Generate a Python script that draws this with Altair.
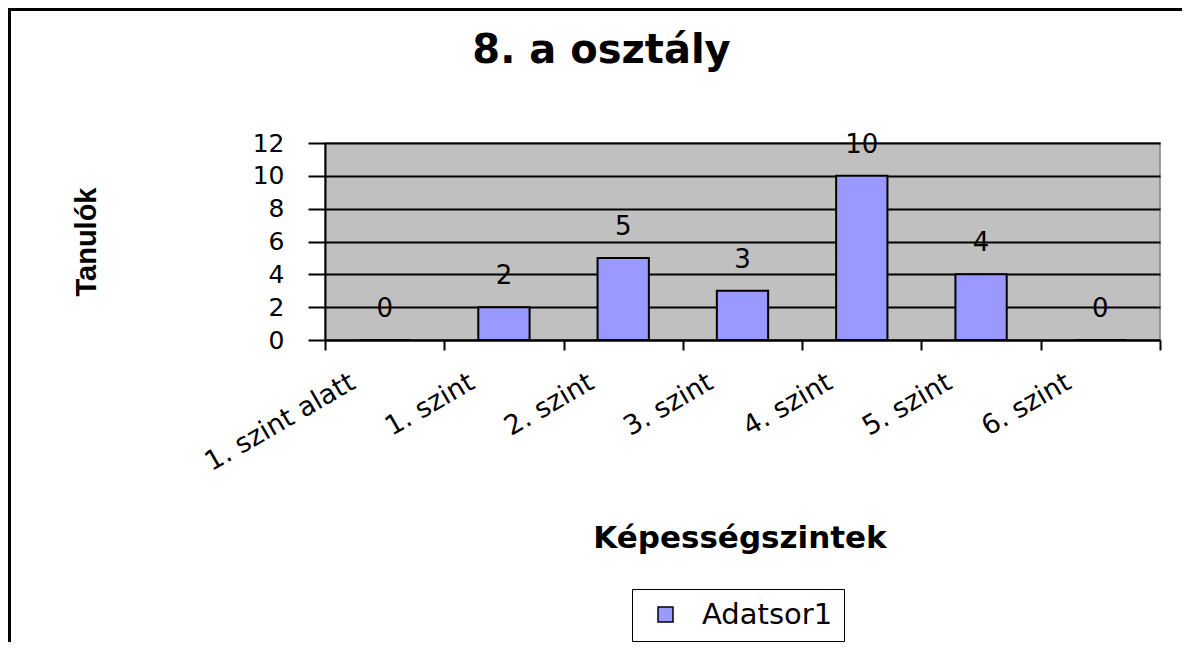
import altair as alt
import pandas as pd

categories = ["1. szint alatt", "1. szint", "2. szint", "3. szint", "4. szint", "5. szint", "6. szint"]
values = [0, 2, 5, 3, 10, 4, 0]
series = ["Adatsor1"] * len(categories)
y_ticks = [0, 2, 4, 6, 8, 10, 12]

df = pd.DataFrame({"cat": categories, "val": values, "series": series})

W, H = 835, 197
PAD_L, PAD_T = 317, 135
CANVAS_W, CANVAS_H = 1174, 634

x_enc = alt.X(
    "cat:N",
    sort=categories,
    scale=alt.Scale(paddingInner=0, paddingOuter=0),
    axis=alt.Axis(
        title="Képességszintek",
        labelAngle=-30,
        labelAlign="right",
        labelBaseline="middle",
        labelOffset=-32,
        labelPadding=30,
        labelFont="DejaVu Sans",
        labelFontSize=27,
        labelColor="black",
        labelOverlap=False,
        tickBand="extent",
        tickSize=10,
        tickWidth=2,
        tickColor="black",
        domainColor="black",
        domainWidth=2,
        titleFont="DejaVu Sans",
        titleFontSize=31,
        titleFontWeight="bold",
        titleColor="black",
        titleX=W / 2 - 3,
        titleY=207,
        titleBaseline="alphabetic",
        titleAlign="center",
    ),
)

y_enc = alt.Y(
    "val:Q",
    scale=alt.Scale(domain=[0, 12], nice=False),
    axis=alt.Axis(
        title="Tanulók",
        values=y_ticks,
        tickCount=7,
        labelOverlap=False,
        tickSize=17,
        tickWidth=2,
        tickColor="black",
        labelPadding=24,
        labelFont="DejaVu Sans",
        labelFontSize=25,
        labelColor="black",
        domainColor="black",
        domainWidth=2,
        grid=True,
        gridColor="black",
        gridWidth=1.8,
        gridOpacity=1,
        titleFont="Liberation Sans",
        titleFontSize=29,
        titleFontWeight="bold",
        titleColor="black",
        titleAngle=-90,
        titleX=-239,
        titleY=H / 2,
        titleAlign="center",
        titleBaseline="middle",
    ),
)

bars = alt.Chart(df).mark_bar(
    stroke="black", strokeWidth=2, width=alt.RelativeBandSize(0.43)
).encode(
    x=x_enc,
    y=y_enc,
    color=alt.Color(
        "series:N",
        scale=alt.Scale(range=["#9999FF"]),
        legend=alt.Legend(
            title=None,
            orient="none",
            legendX=307,
            legendY=446,
            padding=11,
            strokeColor="black",
            labelFont="DejaVu Sans",
            labelFontSize=29,
            labelColor="black",
            labelOffset=22,
            symbolType="square",
            symbolSize=225,
            symbolStrokeColor="black",
            symbolStrokeWidth=1.5,
            symbolOffset=8,
        ),
    ),
)

labels = alt.Chart(df).mark_text(
    font="DejaVu Sans", fontSize=26, color="black", baseline="alphabetic", dy=-23
).encode(
    x=x_enc,
    y=y_enc,
    text=alt.Text("val:Q"),
)

border_top = alt.Chart(df).mark_rule(color="black", strokeWidth=3).encode(
    x=alt.value(-PAD_L), x2=alt.value(CANVAS_W - PAD_L), y=alt.value(-PAD_T + 1.5)
)
border_left = alt.Chart(df).mark_rule(color="black", strokeWidth=3).encode(
    x=alt.value(-PAD_L + 1.5), y=alt.value(-PAD_T), y2=alt.value(CANVAS_H - PAD_T)
)

chart = (
    alt.layer(bars, labels, border_top, border_left)
    .properties(
        width=W,
        height=H,
        autosize=alt.AutoSizeParams(type="none"),
        padding={"left": PAD_L, "top": PAD_T, "right": CANVAS_W - PAD_L - W, "bottom": CANVAS_H - PAD_T - H},
        title=alt.TitleParams(
            "8. a osztály",
            font="DejaVu Sans",
            fontSize=40,
            fontWeight="bold",
            color="black",
            anchor="middle",
            frame="group",
            dx=-141,
            offset=-64,
        ),
        background="white",
    )
    .configure_view(fill="#C0C0C0", stroke="#808080", strokeWidth=1.5)
)

chart.save("out.html", embed_options={"renderer": "svg", "actions": False})
